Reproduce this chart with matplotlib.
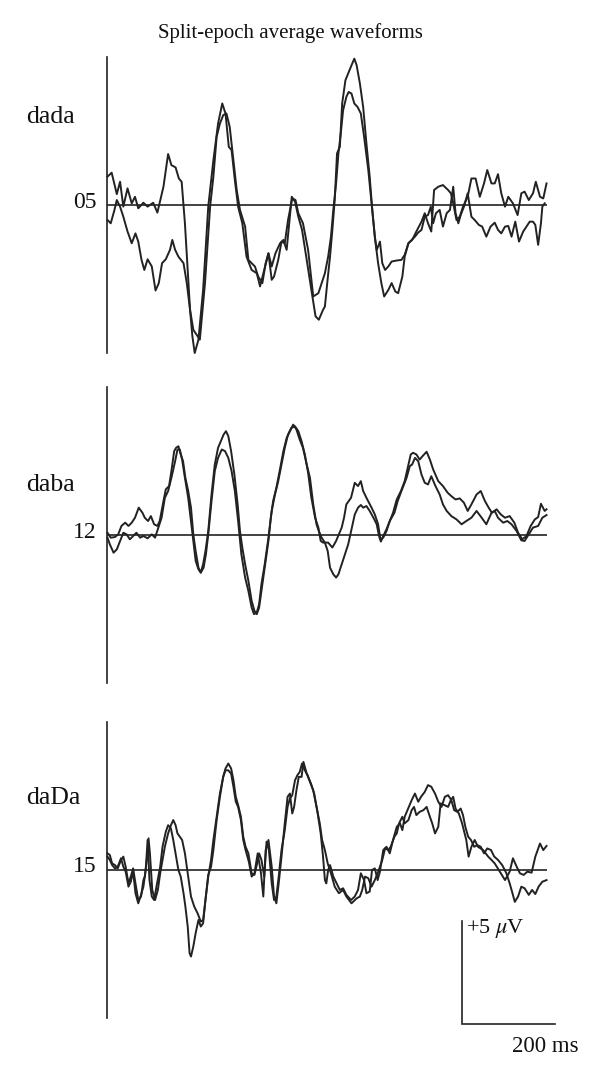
import matplotlib
matplotlib.use("Agg")
import matplotlib.pyplot as plt

plt.rcParams["font.family"] = ["Liberation Serif", "DejaVu Serif"]
plt.rcParams["mathtext.fontset"] = "stix"

# split-epoch averages: time in ms, amplitude in microvolts
dada_a_t = [1, 10, 21, 28, 35, 44, 53, 60, 67, 78, 87, 99, 108, 121, 131, 138, 147, 154, 160, 167, 178, 183, 188, 196, 206, 217, 228, 238, 247, 254, 261, 267, 274, 281, 290, 299, 310, 321, 328, 337, 346, 353, 361, 371, 378, 385, 396, 403, 410, 418, 428, 438, 447, 454, 463, 467, 472, 478, 483, 488, 493, 499, 504, 511, 521, 530, 535, 542, 549, 556, 563, 568, 574, 581, 588, 594, 603, 610, 618, 624, 633, 638, 646, 654, 663, 674, 681, 688, 695, 701, 710, 720, 731, 737, 742, 749, 756, 763, 773, 781, 790, 799, 808, 815, 824, 831, 838, 845, 853, 860, 870, 880, 888, 895, 904, 913, 919, 928, 935, 942]
dada_a_v = [1.38, 1.57, 0.53, 1.13, -0.08, 0.81, 0.08, 0.40, -0.16, 0.11, -0.08, 0.11, -0.37, 0.89, 2.48, 1.94, 1.83, 1.29, 1.13, -0.89, -5.10, -6.39, -7.20, -6.55, -4.13, -0.08, 2.18, 3.96, 4.94, 4.45, 2.83, 2.67, 1.21, -0.08, -0.89, -2.51, -3.16, -3.32, -3.96, -3.16, -2.35, -2.99, -2.35, -1.86, -1.70, -2.18, 0.40, 0.16, -0.57, -1.21, -2.67, -4.13, -5.42, -5.58, -5.10, -4.94, -3.80, -2.51, -1.21, 0.24, 2.51, 2.83, 4.94, 6.07, 6.63, 7.12, 6.80, 5.91, 4.77, 2.99, 1.38, -0.08, -1.54, -2.83, -3.80, -4.45, -4.13, -3.80, -4.21, -4.29, -3.48, -2.51, -1.86, -1.70, -1.29, -0.81, -0.40, -0.89, -1.29, 0.73, 0.89, 0.97, 0.73, 0.57, 0.08, -0.73, -0.57, -0.08, 0.40, 1.29, 1.29, 0.40, 1.05, 1.70, 1.05, 1.05, 1.50, 0.57, -0.08, 0.40, 0.08, -0.49, 0.57, 0.65, 0.24, 0.57, 1.13, 0.40, 0.32, 1.05]

dada_b_t = [1, 8, 16, 21, 28, 35, 44, 53, 61, 67, 74, 80, 87, 96, 104, 111, 118, 126, 135, 140, 146, 153, 164, 171, 178, 185, 192, 199, 210, 221, 228, 235, 242, 249, 256, 263, 271, 278, 285, 296, 303, 310, 317, 324, 333, 340, 346, 353, 358, 367, 374, 381, 388, 397, 404, 410, 420, 431, 442, 453, 460, 467, 474, 480, 485, 491, 496, 501, 506, 513, 518, 524, 530, 537, 544, 551, 560, 567, 574, 578, 581, 585, 590, 596, 603, 610, 621, 631, 638, 646, 653, 660, 667, 674, 681, 688, 694, 699, 705, 713, 720, 728, 735, 742, 747, 753, 758, 765, 773, 781, 788, 797, 804, 813, 822, 831, 838, 845, 853, 860, 867, 875, 883, 892, 899, 906, 913, 918, 924, 930, 933, 938]
dada_b_v = [-0.73, -0.89, -0.24, 0.24, -0.08, -0.57, -1.29, -1.86, -1.38, -1.78, -2.67, -3.16, -2.64, -2.99, -4.16, -3.80, -2.83, -2.64, -2.18, -1.70, -2.18, -2.51, -2.83, -3.80, -5.10, -6.07, -6.31, -6.55, -3.80, -0.08, 1.38, 3.32, 3.96, 4.37, 4.45, 3.80, 2.18, 0.73, -0.24, -1.05, -2.67, -2.83, -2.99, -3.48, -3.80, -2.83, -2.35, -3.64, -3.48, -2.67, -1.78, -1.86, -0.73, 0.32, 0.24, -0.40, -0.89, -2.18, -4.45, -4.29, -3.80, -3.32, -2.51, -1.54, -0.24, 1.05, 2.51, 3.48, 4.61, 5.26, 5.50, 5.42, 4.94, 4.77, 4.45, 3.32, 1.70, 0.08, -1.54, -2.18, -2.02, -1.78, -2.83, -3.16, -2.99, -2.75, -2.70, -2.67, -2.43, -1.86, -1.70, -1.54, -1.34, -1.21, -0.57, -0.49, -0.08, -0.89, -0.40, -0.24, -1.05, -0.40, -0.24, 0.89, -0.40, -0.89, -0.49, -0.08, 0.57, -0.57, -0.73, -0.97, -1.05, -1.54, -1.05, -0.86, -1.21, -1.38, -1.05, -1.02, -1.54, -0.81, -1.78, -1.29, -1.05, -0.81, -0.81, -0.97, -1.94, -0.89, -0.08, 0.08]

daba_a_t = [1, 8, 17, 24, 31, 39, 46, 53, 60, 68, 76, 81, 88, 94, 101, 108, 113, 121, 126, 133, 138, 144, 148, 153, 158, 163, 168, 174, 180, 185, 190, 196, 201, 206, 211, 217, 224, 231, 238, 244, 250, 255, 260, 266, 273, 280, 285, 290, 296, 303, 310, 316, 321, 326, 331, 338, 346, 351, 356, 363, 370, 378, 385, 392, 399, 406, 413, 420, 428, 435, 442, 449, 454, 460, 467, 473, 478, 485, 491, 496, 503, 510, 517, 524, 531, 538, 544, 549, 556, 563, 571, 578, 583, 587, 592, 599, 606, 616, 623, 631, 642, 649, 654, 660, 667, 674, 681, 688, 695, 704, 713, 720, 728, 738, 749, 760, 770, 781, 792, 803, 813, 824, 831, 838, 849, 858, 867, 878, 888, 895, 904, 913, 924, 933, 942]
daba_a_v = [0.11, -0.13, -0.10, 0.03, 0.44, 0.60, 0.44, 0.60, 0.84, 1.33, 1.08, 0.84, 0.68, 0.92, 0.52, 0.44, 0.68, 1.65, 2.22, 2.38, 3.11, 4.08, 4.24, 4.32, 3.92, 3.59, 2.78, 2.14, 1.33, 0.03, -0.78, -1.59, -1.83, -1.42, -0.78, 0.19, 1.97, 3.43, 4.24, 4.56, 4.89, 5.05, 4.81, 4.08, 2.94, 1.49, 0.19, -0.61, -1.42, -2.23, -3.20, -3.69, -3.85, -3.53, -2.72, -1.59, -0.29, 0.84, 1.65, 2.30, 3.11, 4.08, 4.72, 5.05, 5.37, 5.13, 4.64, 4.24, 3.43, 2.78, 1.49, 0.52, 0.19, -0.13, -0.37, -0.78, -1.59, -1.91, -2.07, -1.91, -1.42, -0.94, -0.45, 0.28, 1.00, 1.33, 1.46, 1.33, 1.41, 1.17, 0.84, 0.52, -0.05, -0.32, -0.05, 0.28, 0.68, 1.08, 1.65, 2.14, 2.78, 3.35, 3.43, 3.75, 3.59, 2.94, 2.54, 2.46, 2.86, 2.38, 1.97, 1.49, 1.17, 0.92, 0.76, 0.52, 0.68, 0.84, 1.17, 0.84, 0.52, 1.08, 1.17, 0.84, 0.60, 0.68, 0.52, 0.19, -0.26, -0.29, 0.03, 0.36, 0.44, 0.84, 0.97]

daba_b_t = [1, 6, 14, 21, 28, 35, 42, 49, 56, 63, 71, 78, 87, 96, 103, 110, 117, 124, 131, 138, 146, 151, 156, 161, 167, 174, 180, 185, 190, 196, 201, 207, 212, 217, 224, 231, 238, 246, 253, 260, 267, 274, 281, 288, 296, 303, 310, 315, 321, 326, 331, 338, 346, 353, 360, 367, 374, 381, 388, 395, 403, 410, 417, 424, 431, 438, 446, 453, 458, 463, 470, 474, 483, 491, 497, 503, 508, 513, 523, 531, 538, 544, 549, 556, 567, 574, 581, 586, 592, 599, 606, 613, 621, 630, 638, 646, 651, 656, 663, 670, 678, 685, 692, 699, 710, 720, 730, 738, 747, 756, 765, 773, 781, 792, 801, 810, 818, 825, 835, 844, 853, 863, 873, 881, 890, 899, 908, 917, 924, 930, 938, 942]
daba_b_v = [-0.13, -0.45, -0.86, -0.70, -0.29, 0.11, 0.03, -0.21, -0.05, 0.11, -0.13, -0.05, -0.16, 0.03, -0.13, 0.36, 0.84, 1.81, 2.14, 2.78, 3.59, 4.16, 4.16, 3.67, 2.78, 1.81, 0.68, -0.29, -1.26, -1.67, -1.83, -1.59, -0.94, 0.03, 1.65, 3.11, 3.75, 4.16, 4.08, 3.75, 3.11, 2.14, 0.68, -0.94, -2.07, -2.72, -3.53, -3.85, -3.77, -3.37, -2.39, -1.42, -0.13, 1.17, 1.97, 2.62, 3.43, 4.24, 4.89, 5.21, 5.29, 5.05, 4.56, 3.92, 3.03, 1.81, 0.84, 0.36, -0.29, -0.37, -0.37, -0.37, -0.61, -0.29, 0.03, 0.36, 0.84, 1.49, 1.81, 2.54, 2.38, 2.62, 2.14, 1.81, 1.33, 1.00, 0.52, -0.21, -0.13, 0.19, 0.68, 1.08, 1.73, 2.14, 2.62, 3.43, 3.92, 4.00, 3.92, 3.67, 3.88, 4.05, 3.67, 3.19, 2.62, 2.38, 2.06, 1.89, 1.73, 1.78, 1.57, 1.17, 1.49, 1.97, 2.14, 1.65, 1.33, 1.08, 1.25, 1.00, 0.84, 0.92, 0.60, 0.11, -0.21, -0.05, 0.44, 0.76, 0.87, 1.52, 1.17, 1.25]

daDa_a_t = [1, 6, 11, 17, 23, 30, 35, 40, 46, 51, 56, 61, 67, 73, 78, 81, 86, 89, 92, 97, 103, 109, 114, 119, 124, 131, 137, 142, 147, 151, 156, 161, 167, 173, 180, 187, 194, 201, 206, 211, 217, 223, 228, 235, 242, 249, 254, 260, 266, 271, 276, 281, 287, 292, 297, 303, 310, 316, 321, 326, 331, 337, 342, 347, 353, 358, 363, 368, 374, 381, 387, 392, 397, 403, 408, 413, 418, 424, 430, 437, 444, 451, 458, 463, 467, 470, 474, 478, 485, 492, 499, 506, 513, 523, 531, 538, 544, 551, 556, 563, 568, 574, 580, 585, 592, 599, 606, 613, 621, 628, 633, 638, 644, 653, 660, 667, 673, 681, 688, 695, 703, 710, 717, 724, 731, 738, 744, 751, 758, 763, 768, 774, 780, 787, 794, 801, 808, 815, 823, 830, 838, 847, 856, 863, 869, 874, 881, 888, 895, 904, 911, 918, 925, 933, 942]
daDa_a_v = [0.81, 0.73, 0.32, 0.24, 0.08, 0.49, 0.65, 0.16, -0.65, -0.32, 0.08, -0.65, -1.46, -1.29, -0.49, -0.32, 0.65, 1.54, 0.81, -0.97, -1.46, -0.97, -0.16, 0.49, 1.13, 1.78, 2.18, 2.43, 2.18, 1.78, 1.62, 1.46, 0.81, -0.16, -1.29, -1.78, -2.10, -2.51, -2.43, -1.46, -0.24, 0.16, 0.97, 2.43, 3.56, 4.53, 4.94, 5.18, 4.94, 4.37, 3.56, 3.16, 2.59, 1.62, 1.13, 0.81, -0.16, -0.24, 0.24, 0.81, 0.49, -0.32, 1.38, 0.97, -0.65, -1.46, -1.29, -0.32, 0.97, 1.94, 3.07, 3.48, 3.64, 4.37, 4.61, 4.77, 5.18, 4.85, 4.61, 4.21, 3.72, 2.83, 1.78, 0.65, -0.49, -0.65, 0.00, 0.24, -0.32, -0.65, -0.97, -0.89, -1.21, -1.46, -1.29, -0.97, -0.16, -0.49, -1.13, -1.05, 0.00, 0.08, -0.49, -0.08, 0.97, 1.13, 0.81, 1.46, 2.10, 2.27, 1.94, 2.59, 2.91, 3.40, 3.72, 3.32, 3.56, 3.80, 4.13, 4.05, 3.72, 3.32, 3.07, 3.56, 3.64, 3.40, 2.91, 2.83, 2.99, 2.67, 2.10, 1.62, 1.46, 1.13, 1.21, 1.13, 0.81, 1.05, 0.97, 0.65, 0.49, 0.24, -0.16, -0.65, -1.13, -1.55, -1.29, -0.81, -0.89, -1.21, -0.97, -1.17, -0.81, -0.57, -0.49]

daDa_b_t = [1, 6, 11, 17, 23, 30, 35, 40, 46, 51, 56, 61, 67, 73, 78, 83, 87, 91, 96, 101, 106, 114, 119, 126, 131, 137, 142, 147, 153, 158, 164, 168, 173, 177, 180, 185, 190, 196, 201, 206, 211, 217, 223, 228, 235, 242, 249, 254, 260, 266, 271, 276, 281, 287, 292, 297, 304, 310, 316, 323, 330, 335, 340, 346, 353, 358, 363, 368, 374, 381, 387, 392, 397, 401, 406, 411, 417, 421, 428, 435, 442, 449, 456, 461, 467, 473, 480, 488, 497, 506, 513, 524, 535, 542, 547, 553, 560, 567, 574, 580, 585, 590, 596, 603, 608, 616, 621, 626, 633, 638, 646, 653, 658, 663, 670, 678, 685, 692, 697, 703, 710, 715, 723, 731, 737, 742, 747, 754, 761, 770, 775, 781, 788, 795, 806, 817, 824, 831, 842, 853, 863, 870, 878, 885, 893, 901, 910, 918, 928, 935, 942]
daDa_b_v = [0.65, 0.49, 0.24, 0.08, 0.16, 0.57, 0.16, -0.08, -0.81, -0.57, -0.08, -1.13, -1.62, -1.21, -0.81, 0.00, 1.46, -0.49, -1.29, -1.46, -0.81, 0.16, 1.13, 1.86, 2.18, 2.02, 1.46, 0.81, 0.00, -0.32, -1.13, -1.78, -2.75, -4.05, -4.21, -3.72, -3.07, -2.43, -2.75, -2.59, -1.46, -0.32, 0.49, 1.46, 2.59, 3.72, 4.53, 4.85, 4.85, 4.69, 4.05, 3.32, 3.07, 2.43, 1.46, 0.97, 0.40, -0.32, -0.16, 0.81, -0.16, -1.29, 0.97, 1.46, 0.16, -1.29, -1.62, -0.65, 0.65, 2.27, 3.56, 3.72, 2.75, 3.07, 3.88, 4.53, 4.53, 5.26, 4.69, 4.29, 3.88, 3.07, 2.27, 1.46, 0.97, 0.32, -0.16, -0.81, -1.13, -0.97, -1.29, -1.62, -1.38, -1.29, -0.97, -0.32, -0.40, -0.81, -0.49, -0.16, 0.16, 0.49, 1.05, 0.97, 1.13, 1.62, 1.78, 2.27, 2.59, 2.27, 2.43, 2.91, 3.07, 2.67, 2.83, 2.91, 3.07, 2.59, 2.27, 1.78, 2.10, 3.24, 3.16, 3.07, 3.40, 3.56, 2.99, 2.75, 2.27, 1.46, 0.65, 1.13, 1.46, 1.13, 0.97, 0.65, 0.49, 0.32, -0.08, -0.49, -0.08, 0.57, 0.16, -0.16, -0.24, -0.08, -0.13, 0.65, 1.29, 0.97, 1.17]

conditions = ["dada", "daba", "daDa"]
electrodes = ["05", "12", "15"]
scale_ms = 200
scale_uv = 5

W, H = 600, 1074
INK = "#222222"


def draw_panel(fig, bottom_px, traces):
    ax = fig.add_axes([107 / W, 1 - bottom_px / H, 440 / W, 296 / H])
    ax.set_xlim(0, 943)
    ax.set_ylim(-7.2, 7.2)
    for t, v in traces:
        ax.plot(t, v, color=INK, lw=1.4, clip_on=False, solid_joinstyle="round")
    ax.axhline(0, color=INK, lw=1.2)
    for side in ["top", "right", "bottom"]:
        ax.spines[side].set_visible(False)
    ax.spines["left"].set_linewidth(1.2)
    ax.spines["left"].set_color(INK)
    ax.set_xticks([])
    ax.set_yticks([])
    ax.patch.set_alpha(0)
    return ax


fig = plt.figure(figsize=(W / 100, H / 100), dpi=100)

draw_panel(fig, 353, [(dada_a_t, dada_a_v), (dada_b_t, dada_b_v)])
draw_panel(fig, 683, [(daba_a_t, daba_a_v), (daba_b_t, daba_b_v)])
ax3 = draw_panel(fig, 1018, [(daDa_a_t, daDa_a_v), (daDa_b_t, daDa_b_v)])

# scale bar
x0, y0 = 761, -7.49
ax3.plot([x0, x0, x0 + scale_ms], [y0 + scale_uv, y0, y0], color=INK, lw=1.2,
         clip_on=False, solid_joinstyle="miter")

fig.text(290 / W, 1 - 33 / H, "Split-epoch average waveforms", ha="center",
         va="center", fontsize=15, color="#111111")

label_y = [117, 485, 798]
num_y = [203, 533, 867]
for name, y in zip(conditions, label_y):
    fig.text(26 / W, 1 - y / H, name, ha="left", va="center", fontsize=18.5,
             color="#111111")
for num, y in zip(electrodes, num_y):
    fig.text(97 / W, 1 - y / H, num, ha="right", va="center", fontsize=17,
             color="#111111")

fig.text(466 / W, 1 - 929 / H, r"+%d $\mu$V" % scale_uv, ha="left", va="center",
         fontsize=16, color="#111111")
fig.text(512 / W, 1 - 1047 / H, "%d ms" % scale_ms, ha="left", va="center",
         fontsize=16.5, color="#111111")

fig.savefig("out.png", dpi=100)
